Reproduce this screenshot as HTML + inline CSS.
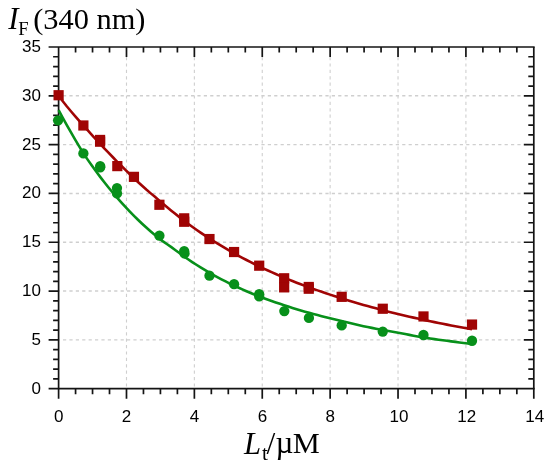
<!DOCTYPE html><html><head><meta charset="utf-8"><title>Fluorescence titration</title><style>html,body{margin:0;padding:0;background:#fff}svg{display:block}</style></head><body>
<svg width="550" height="466" viewBox="0 0 550 466">
<rect width="550" height="466" fill="#fff"/>
<g stroke="#cfcfcf" stroke-dasharray="3.2 3.2" fill="none">
<line x1="126.49" y1="57.00" x2="126.49" y2="388.70" stroke-width="1.1"/>
<line x1="194.37" y1="57.00" x2="194.37" y2="388.70" stroke-width="1.1"/>
<line x1="262.26" y1="57.00" x2="262.26" y2="388.70" stroke-width="1.1"/>
<line x1="330.14" y1="57.00" x2="330.14" y2="388.70" stroke-width="1.1"/>
<line x1="398.03" y1="57.00" x2="398.03" y2="388.70" stroke-width="1.1"/>
<line x1="465.91" y1="57.00" x2="465.91" y2="388.70" stroke-width="1.1"/>
<line x1="58.60" y1="339.89" x2="523.80" y2="339.89" stroke-width="1.4" stroke-dashoffset="2"/>
<line x1="58.60" y1="291.07" x2="523.80" y2="291.07" stroke-width="1.4" stroke-dashoffset="2"/>
<line x1="58.60" y1="242.26" x2="523.80" y2="242.26" stroke-width="1.4" stroke-dashoffset="2"/>
<line x1="58.60" y1="193.44" x2="523.80" y2="193.44" stroke-width="1.4" stroke-dashoffset="2"/>
<line x1="58.60" y1="144.63" x2="523.80" y2="144.63" stroke-width="1.4" stroke-dashoffset="2"/>
<line x1="58.60" y1="95.81" x2="523.80" y2="95.81" stroke-width="1.4" stroke-dashoffset="2"/>
</g>
<g stroke="#141414" stroke-width="1.7" fill="none" stroke-linecap="butt">
<path d="M48.60 47.00H534.65"/>
<path d="M48.60 388.70H534.65"/>
<path d="M58.60 47.00V398.70"/>
<path d="M533.80 47.00V398.70"/>
<path d="M75.57 388.70v5.5M75.57 47.00v5.5M92.54 388.70v5.5M92.54 47.00v5.5M109.51 388.70v5.5M109.51 47.00v5.5M126.49 388.70v10M126.49 47.00v10M143.46 388.70v5.5M143.46 47.00v5.5M160.43 388.70v5.5M160.43 47.00v5.5M177.40 388.70v5.5M177.40 47.00v5.5M194.37 388.70v10M194.37 47.00v10M211.34 388.70v5.5M211.34 47.00v5.5M228.31 388.70v5.5M228.31 47.00v5.5M245.29 388.70v5.5M245.29 47.00v5.5M262.26 388.70v10M262.26 47.00v10M279.23 388.70v5.5M279.23 47.00v5.5M296.20 388.70v5.5M296.20 47.00v5.5M313.17 388.70v5.5M313.17 47.00v5.5M330.14 388.70v10M330.14 47.00v10M347.11 388.70v5.5M347.11 47.00v5.5M364.09 388.70v5.5M364.09 47.00v5.5M381.06 388.70v5.5M381.06 47.00v5.5M398.03 388.70v10M398.03 47.00v10M415.00 388.70v5.5M415.00 47.00v5.5M431.97 388.70v5.5M431.97 47.00v5.5M448.94 388.70v5.5M448.94 47.00v5.5M465.91 388.70v10M465.91 47.00v10M482.89 388.70v5.5M482.89 47.00v5.5M499.86 388.70v5.5M499.86 47.00v5.5M516.83 388.70v5.5M516.83 47.00v5.5M58.60 378.94h-5.5M533.80 378.94h-5.5M58.60 369.17h-5.5M533.80 369.17h-5.5M58.60 359.41h-5.5M533.80 359.41h-5.5M58.60 349.65h-5.5M533.80 349.65h-5.5M58.60 339.89h-10M533.80 339.89h-10M58.60 330.12h-5.5M533.80 330.12h-5.5M58.60 320.36h-5.5M533.80 320.36h-5.5M58.60 310.60h-5.5M533.80 310.60h-5.5M58.60 300.83h-5.5M533.80 300.83h-5.5M58.60 291.07h-10M533.80 291.07h-10M58.60 281.31h-5.5M533.80 281.31h-5.5M58.60 271.55h-5.5M533.80 271.55h-5.5M58.60 261.78h-5.5M533.80 261.78h-5.5M58.60 252.02h-5.5M533.80 252.02h-5.5M58.60 242.26h-10M533.80 242.26h-10M58.60 232.49h-5.5M533.80 232.49h-5.5M58.60 222.73h-5.5M533.80 222.73h-5.5M58.60 212.97h-5.5M533.80 212.97h-5.5M58.60 203.21h-5.5M533.80 203.21h-5.5M58.60 193.44h-10M533.80 193.44h-10M58.60 183.68h-5.5M533.80 183.68h-5.5M58.60 173.92h-5.5M533.80 173.92h-5.5M58.60 164.15h-5.5M533.80 164.15h-5.5M58.60 154.39h-5.5M533.80 154.39h-5.5M58.60 144.63h-10M533.80 144.63h-10M58.60 134.87h-5.5M533.80 134.87h-5.5M58.60 125.10h-5.5M533.80 125.10h-5.5M58.60 115.34h-5.5M533.80 115.34h-5.5M58.60 105.58h-5.5M533.80 105.58h-5.5M58.60 95.81h-10M533.80 95.81h-10M58.60 86.05h-5.5M533.80 86.05h-5.5M58.60 76.29h-5.5M533.80 76.29h-5.5M58.60 66.53h-5.5M533.80 66.53h-5.5M58.60 56.76h-5.5M533.80 56.76h-5.5"/>
</g>
<path d="M58.60 110.11 L62.78 117.83 L66.95 125.36 L71.13 132.69 L75.30 139.89 L79.48 146.96 L83.66 153.69 L87.83 159.89 L92.01 165.82 L96.18 171.56 L100.36 177.13 L104.54 182.53 L108.71 187.74 L112.89 192.76 L117.06 197.62 L121.24 202.34 L125.42 206.91 L129.59 211.34 L133.77 215.62 L137.94 219.76 L142.12 223.74 L146.30 227.57 L150.47 231.26 L154.65 234.80 L158.82 238.19 L163.00 241.36 L167.18 244.30 L171.35 247.19 L175.53 250.21 L179.70 253.32 L183.88 256.33 L188.06 259.24 L192.23 262.05 L196.41 264.77 L200.58 267.39 L204.76 269.94 L208.94 272.40 L213.11 274.78 L217.29 277.08 L221.46 279.31 L225.64 281.47 L229.82 283.56 L233.99 285.58 L238.17 287.54 L242.34 289.44 L246.52 291.28 L250.70 293.06 L254.87 294.79 L259.05 296.45 L263.22 298.02 L267.40 299.52 L271.58 300.98 L275.75 302.41 L279.93 303.83 L284.10 305.23 L288.28 306.59 L292.46 307.92 L296.63 309.20 L300.81 310.45 L304.98 311.66 L309.16 312.85 L313.34 313.99 L317.51 315.11 L321.69 316.20 L325.86 317.26 L330.04 318.29 L334.22 319.31 L338.39 320.33 L342.57 321.35 L346.74 322.35 L350.92 323.34 L355.10 324.30 L359.27 325.24 L363.45 326.15 L367.62 327.02 L371.80 327.86 L375.98 328.69 L380.15 329.49 L384.33 330.27 L388.50 331.05 L392.68 331.81 L396.86 332.56 L401.03 333.31 L405.21 334.09 L409.38 334.90 L413.56 335.71 L417.74 336.49 L421.91 337.22 L426.09 337.88 L430.26 338.50 L434.44 339.10 L438.62 339.69 L442.79 340.26 L446.97 340.82 L451.14 341.37 L455.32 341.90 L459.50 342.42 L463.67 342.93 L467.85 343.43 L472.02 343.91" fill="none" stroke="#07901a" stroke-width="2.6" stroke-linejoin="round"/>
<path d="M58.60 94.83 L62.78 101.26 L66.95 106.51 L71.13 111.49 L75.30 116.31 L79.48 121.04 L83.66 125.73 L87.83 130.42 L92.01 135.06 L96.18 139.62 L100.36 144.11 L104.54 148.55 L108.71 152.93 L112.89 157.26 L117.06 161.55 L121.24 165.78 L125.42 169.94 L129.59 174.03 L133.77 178.03 L137.94 181.96 L142.12 185.81 L146.30 189.57 L150.47 193.13 L154.65 196.61 L158.82 200.19 L163.00 203.73 L167.18 207.23 L171.35 210.67 L175.53 214.06 L179.70 217.37 L183.88 220.60 L188.06 223.74 L192.23 226.78 L196.41 229.71 L200.58 232.58 L204.76 235.38 L208.94 238.11 L213.11 240.78 L217.29 243.39 L221.46 245.94 L225.64 248.43 L229.82 250.86 L233.99 253.23 L238.17 255.54 L242.34 257.81 L246.52 260.01 L250.70 262.17 L254.87 264.27 L259.05 266.33 L263.22 268.33 L267.40 270.28 L271.58 272.18 L275.75 274.04 L279.93 275.86 L284.10 277.62 L288.28 279.35 L292.46 281.04 L296.63 282.69 L300.81 284.30 L304.98 285.87 L309.16 287.41 L313.34 288.91 L317.51 290.39 L321.69 291.83 L325.86 293.24 L330.04 294.63 L334.22 295.98 L338.39 297.32 L342.57 298.64 L346.74 299.93 L350.92 301.20 L355.10 302.45 L359.27 303.68 L363.45 304.88 L367.62 306.07 L371.80 307.23 L375.98 308.36 L380.15 309.48 L384.33 310.57 L388.50 311.64 L392.68 312.69 L396.86 313.72 L401.03 314.72 L405.21 315.70 L409.38 316.67 L413.56 317.62 L417.74 318.55 L421.91 319.46 L426.09 320.36 L430.26 321.24 L434.44 322.11 L438.62 322.96 L442.79 323.79 L446.97 324.61 L451.14 325.42 L455.32 326.21 L459.50 326.99 L463.67 327.76 L467.85 328.51 L472.02 329.26" fill="none" stroke="#a00404" stroke-width="2.6" stroke-linejoin="round"/>
<g fill="#07901a">
<circle cx="58.09" cy="120.32" r="5.15"/>
<circle cx="83.38" cy="153.42" r="5.15"/>
<circle cx="100.21" cy="166.11" r="5.15"/>
<circle cx="100.21" cy="167.28" r="5.15"/>
<circle cx="116.98" cy="188.07" r="5.15"/>
<circle cx="116.98" cy="193.44" r="5.15"/>
<circle cx="159.41" cy="235.72" r="5.15"/>
<circle cx="184.19" cy="251.04" r="5.15"/>
<circle cx="184.53" cy="253.48" r="5.15"/>
<circle cx="209.48" cy="275.65" r="5.15"/>
<circle cx="234.08" cy="284.14" r="5.15"/>
<circle cx="259.20" cy="294.20" r="5.15"/>
<circle cx="259.20" cy="296.44" r="5.15"/>
<circle cx="284.32" cy="311.09" r="5.15"/>
<circle cx="308.93" cy="317.92" r="5.15"/>
<circle cx="341.68" cy="325.44" r="5.15"/>
<circle cx="382.75" cy="331.59" r="5.15"/>
<circle cx="423.49" cy="335.00" r="5.15"/>
<circle cx="472.02" cy="340.76" r="5.15"/>
</g>
<g fill="#a00404">
<rect x="53.50" y="90.13" width="10.2" height="10.2"/>
<rect x="78.28" y="120.39" width="10.2" height="10.2"/>
<rect x="94.98" y="136.60" width="10.2" height="10.2"/>
<rect x="94.98" y="134.84" width="10.2" height="10.2"/>
<rect x="112.22" y="161.01" width="10.2" height="10.2"/>
<rect x="128.85" y="171.75" width="10.2" height="10.2"/>
<rect x="154.31" y="199.67" width="10.2" height="10.2"/>
<rect x="179.09" y="213.24" width="10.2" height="10.2"/>
<rect x="179.09" y="216.66" width="10.2" height="10.2"/>
<rect x="204.38" y="233.94" width="10.2" height="10.2"/>
<rect x="228.98" y="246.92" width="10.2" height="10.2"/>
<rect x="254.10" y="260.59" width="10.2" height="10.2"/>
<rect x="279.05" y="273.18" width="10.2" height="10.2"/>
<rect x="279.05" y="282.26" width="10.2" height="10.2"/>
<rect x="303.66" y="281.87" width="10.2" height="10.2"/>
<rect x="303.66" y="283.63" width="10.2" height="10.2"/>
<rect x="336.58" y="291.73" width="10.2" height="10.2"/>
<rect x="377.65" y="303.64" width="10.2" height="10.2"/>
<rect x="418.39" y="311.35" width="10.2" height="10.2"/>
<rect x="466.92" y="319.46" width="10.2" height="10.2"/>
</g>
<g font-family="'Liberation Sans', Arial, sans-serif" font-size="17" fill="#000">
<text x="41.0" y="393.70" text-anchor="end">0</text>
<text x="41.0" y="344.89" text-anchor="end">5</text>
<text x="41.0" y="296.07" text-anchor="end">10</text>
<text x="41.0" y="247.26" text-anchor="end">15</text>
<text x="41.0" y="198.44" text-anchor="end">20</text>
<text x="41.0" y="149.63" text-anchor="end">25</text>
<text x="41.0" y="100.81" text-anchor="end">30</text>
<text x="41.0" y="52.00" text-anchor="end">35</text>
<text x="58.70" y="422.2" text-anchor="middle">0</text>
<text x="126.59" y="422.2" text-anchor="middle">2</text>
<text x="194.47" y="422.2" text-anchor="middle">4</text>
<text x="262.36" y="422.2" text-anchor="middle">6</text>
<text x="330.24" y="422.2" text-anchor="middle">8</text>
<text x="398.93" y="422.2" text-anchor="middle">10</text>
<text x="466.81" y="422.2" text-anchor="middle">12</text>
<text x="534.70" y="422.2" text-anchor="middle">14</text>
</g>
<g font-family="'Liberation Serif', 'Times New Roman', serif" fill="#000">
<text x="8.2" y="28.6" font-size="31" font-style="italic">I</text>
<text x="18.3" y="35" font-size="18.6">F</text>
<text x="33.2" y="28.8" font-size="30.4">(340 nm)</text>
<text x="243.9" y="454" font-size="30.6" font-style="italic">L</text>
<text x="262" y="460.3" font-size="21">t</text>
<text x="266.5" y="454.2" font-size="31.5">/</text>
<text x="275.5" y="453.4" font-size="31">µ</text>
<text x="292.8" y="453.3" font-size="30.4">M</text>
</g>
</svg></body></html>
